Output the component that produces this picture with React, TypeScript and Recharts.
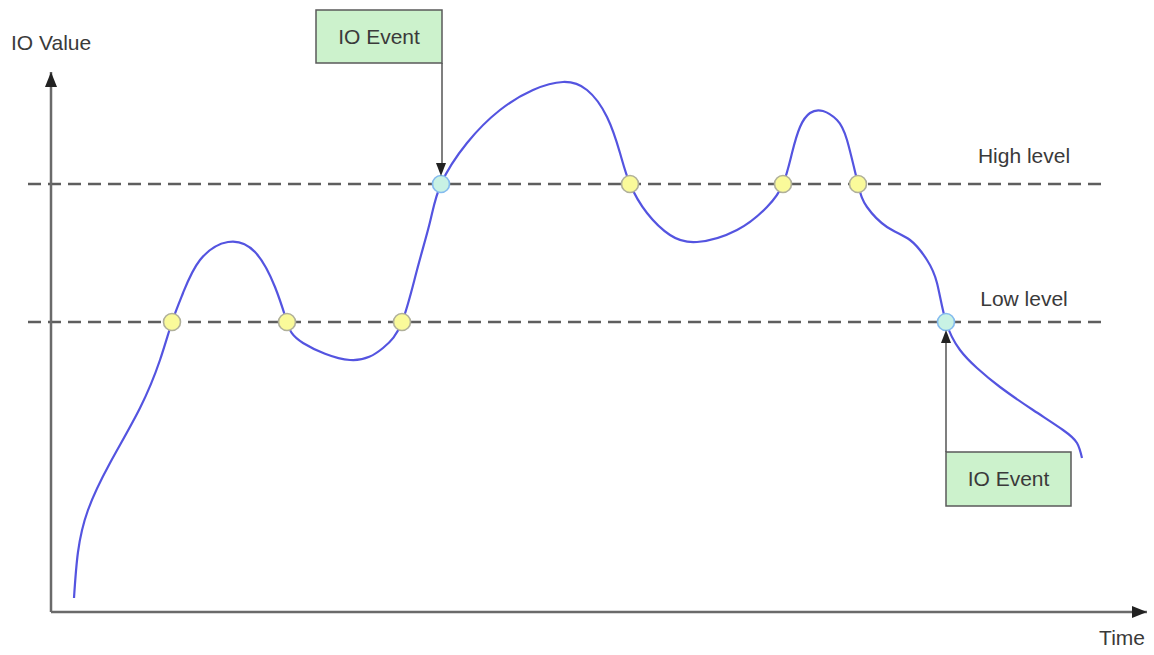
import React from 'react'
import {
  ComposedChart,
  Line,
  XAxis,
  YAxis,
  ReferenceLine,
  ReferenceDot,
  ReferenceArea,
  Label,
} from 'recharts'

// curve samples: time (x) and IO value (y)
const times = [
  2.3, 2.7, 3.7, 5.9, 8.9, 10.9, 12.1, 13.2, 14.9, 17.7, 20.4, 22.4, 23.6, 25.2, 29.9,
  33.2, 35.1, 36.6, 37.9, 39.0, 41.6, 44.9, 48.2, 51.2, 53.6, 55.6, 56.9, 57.9, 59.6, 61.9, 64.6,
  68.6, 71.6, 73.2, 74.1, 74.9, 75.9, 77.2, 78.6, 79.6, 80.7, 81.6, 83.6, 85.9, 87.6, 88.6, 89.5,
  90.9, 92.6, 94.9, 98.2, 101.2, 102.6, 103.1,
]
const ioValues = [
  1.4, 6.0, 10.2, 14.9, 20.4, 25.2, 29.0, 31.9, 35.2, 37.0, 36.0, 32.5, 29.0, 26.9, 25.2,
  26.4, 29.0, 34.2, 39.0, 42.8, 46.9, 50.2, 52.2, 53.0, 52.2, 49.5, 45.9, 42.8, 39.9, 37.7, 37.0,
  38.2, 40.5, 42.8, 45.9, 48.5, 49.9, 50.1, 49.2, 47.2, 42.8, 40.5, 38.5, 37.2, 35.2, 32.9, 29.0,
  26.2, 24.4, 22.5, 20.2, 18.2, 16.9, 15.4,
]

const HIGH_LEVEL = 42.8
const LOW_LEVEL = 29.0

// crossings of the thresholds
const highCrossings = [39.0, 57.9, 73.2, 80.7]
const lowCrossings = [12.1, 23.6, 35.1, 89.5]
// crossings that raise an IO event
const eventTimes = [39.0, 89.5]

const X_MAX = 109.6
const Y_MAX = 54

const data = times.map((t, i) => ({ t, v: ioValues[i] }))

const FONT = '"Liberation Sans", Arial, sans-serif'
const TEXT = '#3a3a3a'
const AXIS = '#6a6a6a'

const arrowRight = (p: any) => (
  <path d={`M${p.cx},${p.cy} l-15,-6 l0,12 z`} fill="#222" />
)
const arrowUp = (p: any) => (
  <path d={`M${p.cx},${p.cy} l-6,15 l12,0 z`} fill="#222" />
)
const arrowDown = (p: any) => (
  <path d={`M${p.cx},${p.cy} l-5,-13 l10,0 z`} fill="#222" />
)
const arrowUpSmall = (p: any) => (
  <path d={`M${p.cx},${p.cy} l-5,13 l10,0 z`} fill="#222" />
)
const textShape = (label: string) => (p: any) => (
  <text x={p.cx} y={p.cy} textAnchor="middle" fontFamily={FONT} fontSize={21} fill={TEXT}>
    {label}
  </text>
)

const dotFill = (t: number) => (eventTimes.includes(t) ? '#c8f2e4' : '#fafa9a')
const dotStroke = (t: number) => (eventTimes.includes(t) ? '#84bbee' : '#b0b09a')

export default function App() {
  return (
    <div style={{ position: 'absolute', left: 0, top: 0, background: '#fff' }}>
      <ComposedChart
        width={1154}
        height={655}
        data={data}
        margin={{ top: 72, right: 7, bottom: 42, left: 50 }}
      >
        <XAxis
          dataKey="t"
          type="number"
          domain={[0, X_MAX]}
          height={1}
          tick={false}
          tickLine={false}
          axisLine={{ stroke: AXIS, strokeWidth: 2.5 }}
        >
          <Label
            content={(p: any) => (
              <text
                x={p.viewBox.x + p.viewBox.width - 2}
                y={p.viewBox.y + 33}
                textAnchor="end"
                fontFamily={FONT}
                fontSize={21}
                fill={TEXT}
              >
                Time
              </text>
            )}
          />
        </XAxis>
        <YAxis
          type="number"
          domain={[0, Y_MAX]}
          width={1}
          tick={false}
          tickLine={false}
          axisLine={{ stroke: AXIS, strokeWidth: 2.5 }}
        >
          <Label
            content={(p: any) => (
              <text
                x={p.viewBox.x + p.viewBox.width - 40}
                y={p.viewBox.y - 22}
                textAnchor="start"
                fontFamily={FONT}
                fontSize={21}
                fill={TEXT}
              >
                IO Value
              </text>
            )}
          />
        </YAxis>

        <ReferenceDot x={X_MAX} y={0} r={0} ifOverflow="visible" shape={arrowRight} />
        <ReferenceDot x={0} y={Y_MAX} r={0} ifOverflow="visible" shape={arrowUp} />

        {[HIGH_LEVEL, LOW_LEVEL].map((lv) => (
          <ReferenceLine
            key={lv}
            segment={[
              { x: -2.3, y: lv },
              { x: 105.2, y: lv },
            ]}
            ifOverflow="visible"
            stroke="#5e5e5e"
            strokeWidth={2.5}
            strokeDasharray="13 7"
          />
        ))}
        <ReferenceDot x={97.3} y={44.9} r={0} ifOverflow="visible" shape={textShape('High level')} />
        <ReferenceDot x={97.3} y={30.6} r={0} ifOverflow="visible" shape={textShape('Low level')} />

        <Line
          type="natural"
          dataKey="v"
          stroke="#5454e0"
          strokeWidth={2.2}
          dot={false}
          activeDot={false}
          isAnimationActive={false}
        />

        {highCrossings.map((t) => (
          <ReferenceDot
            key={'h' + t}
            x={t}
            y={HIGH_LEVEL}
            r={8.5}
            fill={dotFill(t)}
            stroke={dotStroke(t)}
            strokeWidth={1.6}
          />
        ))}
        {lowCrossings.map((t) => (
          <ReferenceDot
            key={'l' + t}
            x={t}
            y={LOW_LEVEL}
            r={8.5}
            fill={dotFill(t)}
            stroke={dotStroke(t)}
            strokeWidth={1.6}
          />
        ))}

        {/* IO event callouts */}
        <ReferenceArea
          x1={26.5}
          x2={39.1}
          y1={54.9}
          y2={60.2}
          ifOverflow="visible"
          fill="#ccf2cc"
          fillOpacity={1}
          stroke="#5a5a5a"
          strokeWidth={1.5}
        >
          <Label value="IO Event" position="center" fontFamily={FONT} fontSize={21} fill={TEXT} />
        </ReferenceArea>
        <ReferenceLine
          segment={[
            { x: 39.1, y: 54.9 },
            { x: 39.1, y: 44.6 },
          ]}
          ifOverflow="visible"
          stroke="#555"
          strokeWidth={1.5}
        />
        <ReferenceDot x={eventTimes[0]} y={43.6} r={0} ifOverflow="visible" shape={arrowDown} />

        <ReferenceArea
          x1={89.5}
          x2={102.0}
          y1={10.6}
          y2={16.0}
          ifOverflow="visible"
          fill="#ccf2cc"
          fillOpacity={1}
          stroke="#5a5a5a"
          strokeWidth={1.5}
        >
          <Label value="IO Event" position="center" fontFamily={FONT} fontSize={21} fill={TEXT} />
        </ReferenceArea>
        <ReferenceLine
          segment={[
            { x: 89.5, y: 16.0 },
            { x: 89.5, y: 27.0 },
          ]}
          ifOverflow="visible"
          stroke="#555"
          strokeWidth={1.5}
        />
        <ReferenceDot x={eventTimes[1]} y={28.2} r={0} ifOverflow="visible" shape={arrowUpSmall} />
      </ComposedChart>
    </div>
  )
}
